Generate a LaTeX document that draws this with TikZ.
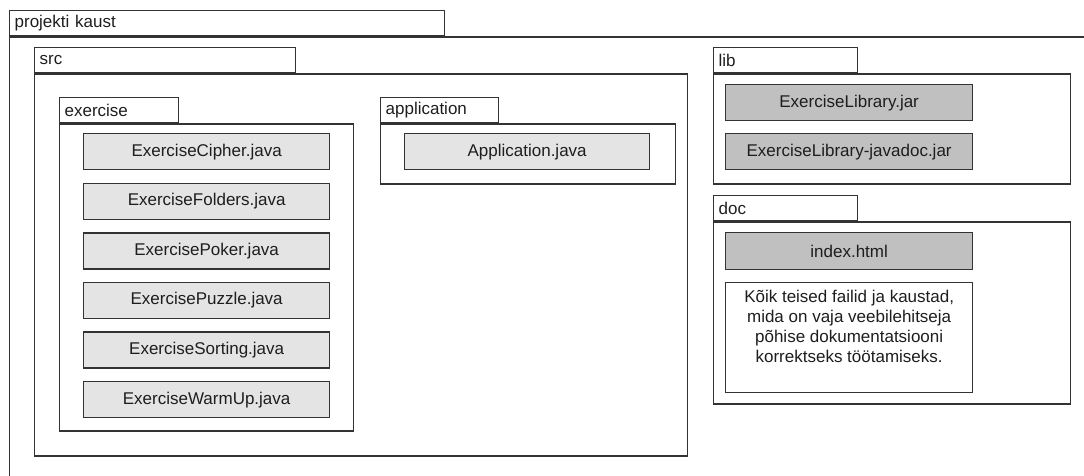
\documentclass[tikz,border=0pt]{standalone}
\usepackage{fontspec}
\setmainfont{Liberation Sans}
\usetikzlibrary{positioning}
\definecolor{linegray}{HTML}{333333}
\definecolor{textgray}{HTML}{1E1E1E}
\definecolor{srcfill}{HTML}{E4E4E4}
\definecolor{libfill}{HTML}{C0C0C0}
\tikzstyle{folder} = [rectangle, draw=linegray, line width=1.3pt, anchor=north west, inner sep=0pt]
\tikzstyle{file} = [rectangle, draw=linegray, line width=1.3pt, fill=srcfill, minimum width=246pt, minimum height=36pt, text centered, inner sep=0pt]
\tikzstyle{jar} = [file, fill=libfill]
\tikzset{tab/.style={rectangle, draw=linegray, line width=1.3pt, anchor=north west, minimum height=25pt, inner xsep=5pt, inner ysep=0pt, text width=#1, align=left}}

\begin{document}
\begin{tikzpicture}[x=1pt, y=-1pt, font=\fontsize{17}{20}\selectfont, text=textgray]
\useasboundingbox (0,0) rectangle (1084,475);
\clip (0,0) rectangle (1084,475);

% projekti kaust
\node (root_tab) [tab=425pt] at (9,10) {projekti kaust};
\node (root) [folder, minimum width=1200pt, minimum height=600pt] at (root_tab.south west) {};

% src
\node (src_tab) [tab=251pt] at (34,47) {src};
\node (src) [folder, minimum width=653pt, minimum height=382pt] at (src_tab.south west) {};

\node (exercise_tab) [tab=109pt] at (59,97) {exercise};
\node (exercise) [folder, minimum width=294pt, minimum height=307pt] at (exercise_tab.south west) {};

\node (cipher) [file, anchor=north west] at (83,133) {ExerciseCipher.java};
\node (folders) [file, below=12.3pt of cipher] {ExerciseFolders.java};
\node (poker) [file, below=12.3pt of folders] {ExercisePoker.java};
\node (puzzle) [file, below=12.3pt of poker] {ExercisePuzzle.java};
\node (sorting) [file, below=12.3pt of puzzle] {ExerciseSorting.java};
\node (warmup) [file, below=12.3pt of sorting] {ExerciseWarmUp.java};

\node (application_tab) [tab=108pt] at (380,97) {application};
\node (application) [folder, minimum width=295pt, minimum height=60pt] at (application_tab.south west) {};
\node (app_java) [file, anchor=north west, minimum width=245pt] at (404,133) {Application.java};

% lib
\node (lib_tab) [tab=134pt] at (713,47) {lib};
\node (lib) [folder, minimum width=357pt, minimum height=110pt] at (lib_tab.south west) {};
\node (lib_jar) [jar, anchor=north west, minimum width=247pt] at (725,84) {ExerciseLibrary.jar};
\node (lib_doc) [jar, below=11.7pt of lib_jar, minimum width=247pt] {ExerciseLibrary-javadoc.jar};

% doc
\node (doc_tab) [tab=134pt] at (713,195) {doc};
\node (doc) [folder, minimum width=357pt, minimum height=182pt] at (doc_tab.south west) {};
\node (index) [jar, anchor=north west, minimum width=247pt, minimum height=37pt] at (725,232) {index.html};
\node (others) [rectangle, draw=linegray, line width=1.3pt, fill=white, anchor=north west, inner xsep=5pt, inner ysep=8pt] at (725,282)
  {\parbox[c][94pt][t]{237pt}{\centering Kõik teised failid ja kaustad,\\ mida on vaja veebilehitseja\\ põhise dokumentatsiooni\\ korrektseks töötamiseks.}};

\end{tikzpicture}
\end{document}
